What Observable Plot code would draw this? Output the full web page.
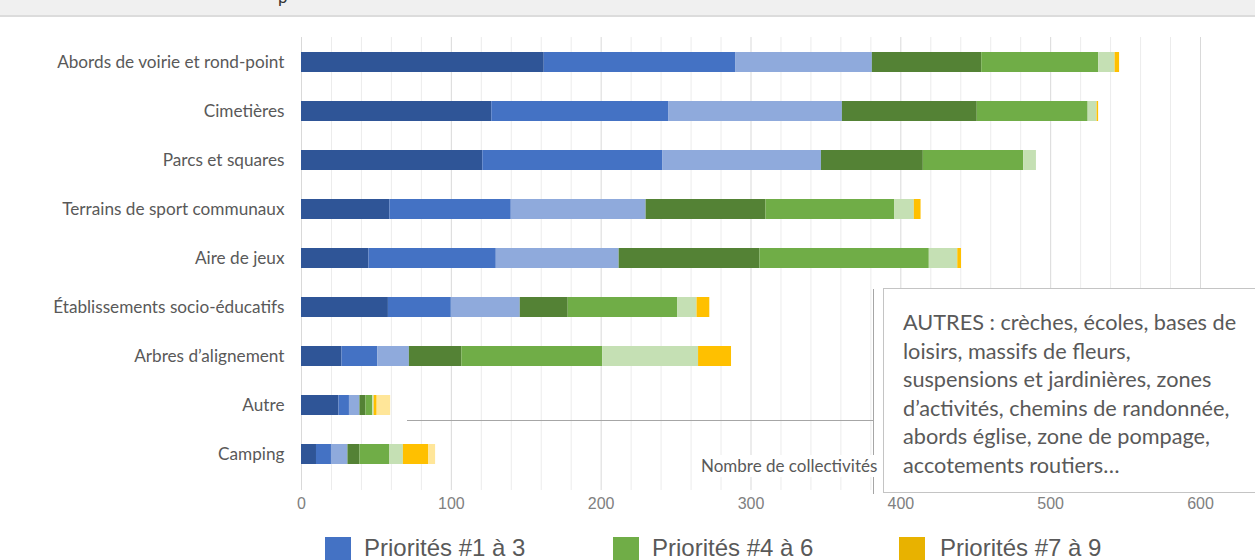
<!DOCTYPE html>
<html><head><meta charset="utf-8">
<script src="https://cdn.jsdelivr.net/npm/d3@7"></script>
<script src="https://cdn.jsdelivr.net/npm/@observablehq/plot@0.6"></script>
<style>
html,body{margin:0;padding:0}
body{width:1255px;height:560px;overflow:hidden;background:#fff;position:relative;font-family:Lato,sans-serif;color:#595959}
#topband{position:absolute;left:0;top:0;width:1255px;height:15px;background:#f0f0f0;border-bottom:2px solid #dcdcdc;overflow:hidden}
#topband span{position:absolute;left:278px;top:-14px;font-size:17px;color:#333;font-family:Lato,sans-serif}
#chart{position:absolute;left:0;top:0}
.ov{position:absolute}
#connector{left:407px;top:420px;width:466px;height:0;border-top:1px solid #a6a6a6}
#vline{left:873px;top:289px;width:0;height:205px;border-left:1px solid #a6a6a6}
#xlabel{left:699px;top:455px;font-size:17px;background:#fff;padding:0 2px;line-height:22px;color:#595959}
#note{left:883px;top:288px;width:400px;height:205px;border:1px solid #c4c4c4;background:#fff;box-sizing:border-box;padding:19px 0 0 19px;font-size:21.7px;line-height:28.6px;color:#595959;white-space:nowrap}
#legend .sw{position:absolute;top:537px;width:26px;height:23px}
#legend .lt{position:absolute;top:533px;font-family:"Liberation Sans Narrow","Arial Narrow",sans-serif;font-size:24px;line-height:30px;color:#595959}
</style></head>
<body>
<div id="topband"><span>p</span></div>
<div id="chart"></div>
<div class="ov" id="connector"></div>
<div class="ov" id="vline"></div>
<div class="ov" id="xlabel">Nombre de collectivités</div>
<div class="ov" id="note">AUTRES : crèches, écoles, bases de<br>loisirs, massifs de fleurs,<br>suspensions et jardinières, zones<br>d’activités, chemins de randonnée,<br>abords église, zone de pompage,<br>accotements routiers…</div>
<div id="legend"></div>
<script>
const categories = ["Abords de voirie et rond-point","Cimetières","Parcs et squares","Terrains de sport communaux","Aire de jeux","Établissements socio-éducatifs","Arbres d’alignement","Autre","Camping"];
const series = ["#1","#2","#3","#4","#5","#6","#7","#8"];
const p1 = [162,127,121,59,45,58,27,25,10];
const p2 = [128,118,120,81,85,42,24,7,10];
const p3 = [91,116,106,90,82,46,21,7,11];
const p4 = [73,90,68,80,94,32,35,4,8];
const p5 = [78,74,67,86,113,73,94,4.5,20];
const p6 = [11,6,8.5,13,19,13,64,1,9];
const p7 = [3,1,0,4.5,2.5,8.5,22,2,17];
const p8 = [0,0,0,0,0,0,0,9,4.5];
const seriesColors = ["#2f5597","#4472c4","#8faadc","#548235","#70ad47","#c5e0b4","#ffc000","#ffe699"];
const xTicks = [0,100,200,300,400,500,600];
const xMinorGrid = [20,40,60,80,120,140,160,180,220,240,260,280,320,340,360,380,420,440,460,480,520,540,560,580];
const legendLabels = ["Priorités #1 à 3","Priorités #4 à 6","Priorités #7 à 9"];
const legendColors = ["#4472c4","#70ad47","#e8b200"];

const values = [p1,p2,p3,p4,p5,p6,p7,p8];
const rows = [];
categories.forEach((c,i)=>{ values.forEach((arr,s)=>{ rows.push({cat:c, series:series[s], value:arr[i]}); }); });

const chart = Plot.plot({
  width:1255, height:520,
  marginLeft:301, marginRight:55, marginTop:37, marginBottom:30,
  style:{background:"transparent", fontFamily:"Lato, sans-serif", color:"#595959"},
  x:{domain:[0,600], label:null},
  y:{domain:categories, range:[36.3,481], paddingInner:0.585, paddingOuter:0.2925, label:null},
  color:{domain:series, range:seriesColors},
  marks:[
    Plot.ruleX(xMinorGrid,{stroke:"#ececec", strokeWidth:1}),
    Plot.ruleX(xTicks,{stroke:"#d9d9d9", strokeWidth:1}),
    Plot.barX(rows,{x:"value", y:"cat", fill:"series", order:null}),
    Plot.axisX({ticks:xTicks, tickSize:0, tickPadding:7, fontSize:16, fontFamily:"Liberation Sans Narrow, Arial Narrow, sans-serif", fill:"#808080", label:null}),
    Plot.axisY({tickSize:0, tickPadding:17, fontSize:17.2, fontFamily:"Lato, sans-serif", fill:"#595959", label:null})
  ]
});
document.getElementById("chart").appendChild(chart);

const lg = document.getElementById("legend");
const swLeft = [325,613,899], txLeft=[364,652,940];
legendLabels.forEach((t,i)=>{
  const s=document.createElement("div"); s.className="sw"; s.style.left=swLeft[i]+"px"; s.style.background=legendColors[i]; lg.appendChild(s);
  const l=document.createElement("div"); l.className="lt"; l.style.left=txLeft[i]+"px"; l.textContent=t; lg.appendChild(l);
});
</script>
</body></html>
